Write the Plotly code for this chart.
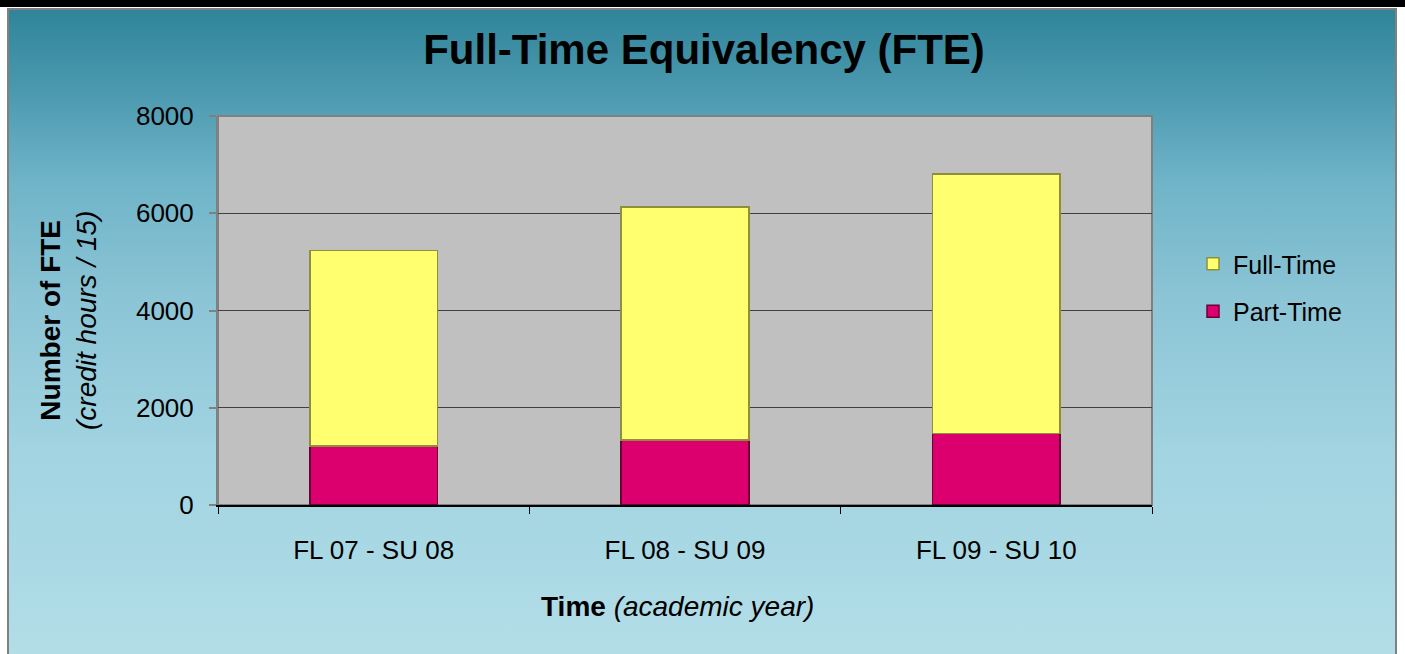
import base64
import plotly.graph_objects as go

# data
years = ["FL 07 - SU 08", "FL 08 - SU 09", "FL 09 - SU 10"]
part_time = [1210, 1335, 1472]
full_time = [4025, 4790, 5340]
y_ticks = [0, 2000, 4000, 6000, 8000]

FONT = "Liberation Sans, Arial, sans-serif"
W, H = 1405, 654
PL, PR, PT, PB = 218, 1152, 116, 505  # plot area in pixels


def px_x(x):
    return (x - PL) / (PR - PL)


def px_y(y):
    return (PB - y) / (PB - PT)


# gradient backdrop for the chart frame
stops = [(0.0, "#2F8499"), (0.124, "#4B99AF"), (0.263, "#6FB4C8"), (0.447, "#8CC5D6"),
         (0.677, "#A2D4E1"), (0.823, "#A8D8E4"), (1.0, "#B4DEE8")]
svg = ('<svg xmlns="http://www.w3.org/2000/svg" width="100" height="100" preserveAspectRatio="none">'
       '<defs><linearGradient id="g" x1="0" y1="0" x2="0" y2="1">'
       + "".join(f'<stop offset="{o}" stop-color="{c}"/>' for o, c in stops)
       + '</linearGradient></defs><rect width="100" height="100" fill="url(#g)"/></svg>')
bg_src = "data:image/svg+xml;base64," + base64.b64encode(svg.encode()).decode()

fig = go.Figure()
fig.add_trace(go.Bar(
    x=years, y=part_time, name="Part-Time", legendgroup="pt", legendrank=2,
    marker=dict(color="#DC006E", line=dict(color="#6a0035", width=1.5)),
))
fig.add_trace(go.Bar(
    x=years, y=full_time, name="Full-Time", legendgroup="ft", legendrank=1,
    marker=dict(color="#FFFF70", line=dict(color="#8f8f3a", width=1.5)),
))

fig.update_layout(
    width=W, height=H,
    margin=dict(l=PL, r=W - PR, t=PT, b=H - PB, pad=0),
    paper_bgcolor="white",
    plot_bgcolor="rgba(0,0,0,0)",
    barmode="stack",
    bargap=0.59,
    font=dict(family=FONT, color="black", size=26),
    title=dict(text="<b>Full-Time Equivalency (FTE)</b>", x=704 / W, xanchor="center",
               y=1 - 49 / H, yanchor="middle", font=dict(size=42, family=FONT)),
    legend=dict(x=px_x(1193), xanchor="left", y=px_y(241), yanchor="top",
                traceorder="grouped", tracegroupgap=12,
                bgcolor="rgba(0,0,0,0)", font=dict(size=25, family=FONT)),
    images=[dict(source=bg_src, xref="paper", yref="paper",
                 x=px_x(8), y=px_y(9), sizex=(1396 - 8) / (PR - PL), sizey=(665 - 9) / (PB - PT),
                 xanchor="left", yanchor="top", sizing="stretch", layer="below")],
    shapes=[
        # top black band
        dict(type="rect", xref="paper", yref="paper", x0=px_x(0), x1=px_x(W), y0=px_y(7), y1=px_y(-2),
             fillcolor="black", line_width=0, layer="below"),
        # frame border
        dict(type="rect", xref="paper", yref="paper", x0=px_x(8), x1=px_x(1396), y0=px_y(665), y1=px_y(9),
             fillcolor="rgba(0,0,0,0)", line=dict(color="#808080", width=2), layer="below"),
        # plot area
        dict(type="rect", xref="paper", yref="paper", x0=0, x1=1, y0=0, y1=1,
             fillcolor="#C0C0C0", line=dict(color="#808080", width=2), layer="below"),
    ],
    annotations=[
        dict(text="<b>Number of FTE</b><br><i>(credit hours / 15)</i>", xref="paper", yref="paper",
             x=px_x(68), y=px_y(321), xanchor="center", yanchor="middle", textangle=-90,
             showarrow=False, font=dict(size=28, family=FONT)),
        dict(text="<b>Time</b> <i>(academic year)</i>", xref="paper", yref="paper",
             x=px_x(677), y=px_y(606), xanchor="center", yanchor="middle",
             showarrow=False, font=dict(size=28, family=FONT)),
    ],
)

fig.update_yaxes(
    range=[0, 8000], tickvals=y_ticks, showgrid=True, gridcolor="#404040", gridwidth=1,
    zeroline=False, showline=True, linecolor="#808080", linewidth=2,
    ticks="outside", ticklen=7, tickwidth=2, tickcolor="#808080", ticklabelstandoff=10,
)
fig.update_xaxes(
    showline=True, linecolor="black", linewidth=1.5,
    ticks="outside", tickson="boundaries", ticklen=7, tickcolor="black", tickwidth=1,
    ticklabelstandoff=21,
)

fig.write_html("out.html", config={"displayModeBar": False},
               post_script="document.body.style.margin='0';")
